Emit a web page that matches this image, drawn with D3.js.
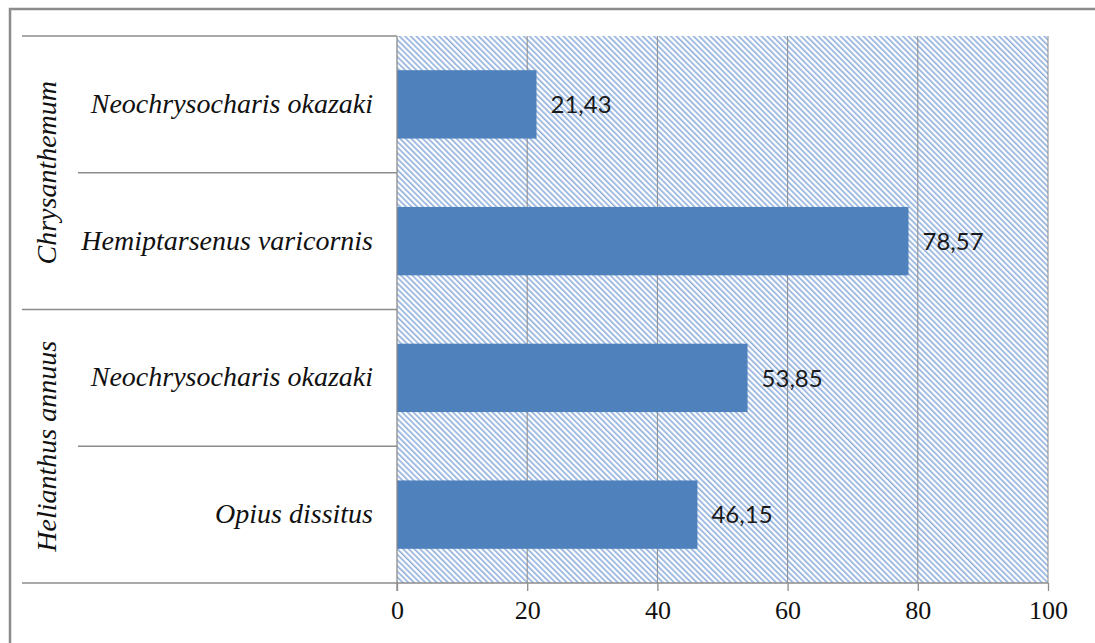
<!DOCTYPE html>
<html>
<meta charset="utf-8">
<head>
    <script src="https://d3js.org/d3.v7.min.js"></script>
    <style>
        body { margin: 0; background: #fff; }
        .serif { font-family: "Liberation Serif", "Times New Roman", serif; }
        .it { font-style: italic; }
    </style>
</head>
<body>
    <script>
        var width = 1095,
            height = 643;

        // data
        var groups = ["Chrysanthemum", "Helianthus annuus"];
        var species = ["Neochrysocharis okazaki", "Hemiptarsenus varicornis", "Neochrysocharis okazaki", "Opius dissitus"];
        var speciesGroup = [0, 0, 1, 1];
        var values = [21.43, 78.57, 53.85, 46.15];
        var ticks = [0, 20, 40, 60, 80, 100];

        var margin = {left: 397, right: 47, top: 36, bottom: 60};

        var svg = d3.select("body").append("svg")
            .attr("width", width)
            .attr("height", height);

        var defs = svg.append("defs");
        var pat = defs.append("pattern")
            .attr("id", "hatch")
            .attr("patternUnits", "userSpaceOnUse")
            .attr("width", 4)
            .attr("height", 4)
            .attr("patternTransform", "rotate(-45)");
        pat.append("rect").attr("width", 4).attr("height", 4).attr("fill", "#fff");
        pat.append("rect").attr("x", 0).attr("width", 1.6).attr("height", 4).attr("fill", "#8eaedb");

        // outer border (cropped on right and bottom)
        svg.append("path")
            .attr("d", "M10," + height + "V9H" + width)
            .attr("fill", "none")
            .attr("stroke", "#8c8c8c")
            .attr("stroke-width", 2.5);

        var x = d3.scaleLinear()
            .domain([0, 100])
            .range([margin.left, width - margin.right]);

        var y = d3.scaleBand()
            .domain(d3.range(species.length))
            .range([margin.top, height - margin.bottom])
            .paddingInner(0.5)
            .paddingOuter(0.25);

        var y0 = margin.top, y1 = height - margin.bottom;
        var step = y.step();

        // hatched plot area
        svg.append("rect")
            .attr("x", x(0))
            .attr("y", y0)
            .attr("width", x(100) - x(0))
            .attr("height", y1 - y0)
            .attr("fill", "url(#hatch)");

        // gridlines
        svg.selectAll(".grid")
            .data(ticks.slice(1))
            .enter()
            .append("line")
            .attr("x1", d => x(d))
            .attr("x2", d => x(d))
            .attr("y1", y0)
            .attr("y2", y1)
            .attr("stroke", "#8c8c8c")
            .attr("stroke-width", 1);

        // category frame lines
        svg.append("line")
            .attr("x1", 22).attr("x2", x(0))
            .attr("y1", y0).attr("y2", y0)
            .attr("stroke", "#8c8c8c").attr("stroke-width", 1.3);
        species.forEach(function (s, i) {
            if (i == 0) return;
            var yy = y0 + i * step;
            var newGroup = speciesGroup[i] != speciesGroup[i - 1];
            svg.append("line")
                .attr("x1", newGroup ? 22 : 78).attr("x2", x(0))
                .attr("y1", yy).attr("y2", yy)
                .attr("stroke", "#8c8c8c").attr("stroke-width", 1.3);
        });

        // bars
        svg.selectAll(".bar")
            .data(values)
            .enter()
            .append("rect")
            .attr("x", x(0))
            .attr("y", (d, i) => y(i))
            .attr("width", d => x(d) - x(0))
            .attr("height", y.bandwidth())
            .attr("fill", "#4f81bd");

        // value labels
        svg.selectAll(".val")
            .data(values)
            .enter()
            .append("text")
            .attr("x", d => x(d) + 14)
            .attr("y", (d, i) => y(i) + y.bandwidth() / 2)
            .attr("dy", "0.36em")
            .attr("font-family", "Lato, 'Open Sans', sans-serif")
            .attr("font-size", 24)
            .attr("fill", "#1a1a1a")
            .text(d => d.toFixed(2).replace(".", ","));

        // axes lines
        svg.append("line")
            .attr("x1", 22).attr("x2", x(100))
            .attr("y1", y1).attr("y2", y1)
            .attr("stroke", "#8c8c8c").attr("stroke-width", 1.3);
        svg.append("line")
            .attr("x1", x(0)).attr("x2", x(0))
            .attr("y1", y0).attr("y2", y1 + 8)
            .attr("stroke", "#8c8c8c").attr("stroke-width", 1.3);

        var xAxis = d3.axisBottom(x)
            .tickValues(ticks)
            .tickSize(8)
            .tickFormat(d3.format("d"));
        var gx = svg.append("g")
            .attr("transform", "translate(0," + y1 + ")")
            .call(xAxis);
        gx.select(".domain").remove();
        gx.selectAll(".tick line").attr("stroke", "#8c8c8c").attr("stroke-width", 1.3);
        gx.selectAll(".tick text")
            .attr("class", "serif")
            .attr("y", 18)
            .attr("font-size", 26)
            .attr("fill", "#111");
        gx.attr("font-family", null);

        // species labels
        svg.selectAll(".sp")
            .data(species)
            .enter()
            .append("text")
            .attr("class", "serif it")
            .attr("x", 373)
            .attr("y", (d, i) => y(i) + y.bandwidth() / 2)
            .attr("dy", "0.3em")
            .attr("text-anchor", "end")
            .attr("font-size", 28)
            .attr("fill", "#111")
            .text(d => d);

        // group labels
        groups.forEach(function (g, gi) {
            var idx = d3.range(species.length).filter(i => speciesGroup[i] == gi);
            var top = y0 + d3.min(idx) * step;
            var bot = y0 + (d3.max(idx) + 1) * step;
            var cy = (top + bot) / 2;
            svg.append("text")
                .attr("class", "serif it")
                .attr("transform", "translate(56," + cy + ") rotate(-90)")
                .attr("text-anchor", "middle")
                .attr("font-size", 28)
                .attr("fill", "#111")
                .text(g);
        });
    </script>
</body>
</html>
